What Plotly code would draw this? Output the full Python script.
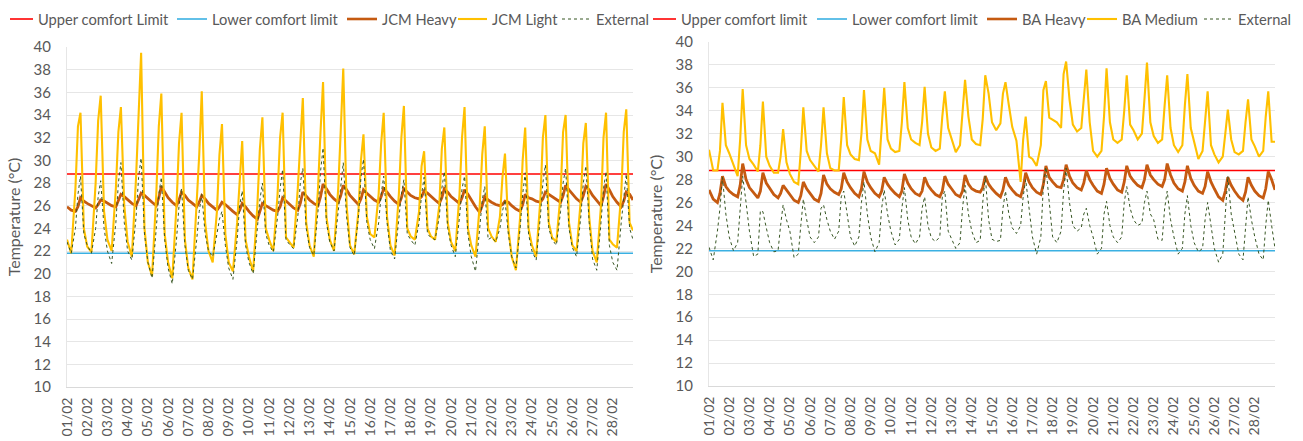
import plotly.graph_objects as go

# ---------------- data ----------------
DAY_LABELS = ["%02d/02" % d for d in range(1, 29)]
HOURS = [0, 5, 10, 13, 16, 20]          # sample hours within each day

UPPER_LIMIT = 28.8
LOWER_LIMIT = 21.8

LEFT_NAMES = ["Upper comfort Limit", "Lower comfort limit", "JCM Heavy", "JCM Light", "External"]
RIGHT_NAMES = ["Upper comfort limit", "Lower comfort limit", "BA Heavy", "BA Medium", "External"]
Y_TITLE = "Temperature (°C)"

# Left panel (JCM) - one row per day, values at HOURS
JCM_HEAVY = [
    [25.9, 25.6, 25.5, 25.9, 26.7, 26.4], [26.2, 26.0, 25.8, 26.1, 26.5, 26.4],
    [26.2, 26.0, 25.9, 26.4, 27.0, 26.8], [26.5, 26.2, 26.0, 26.5, 27.1, 26.9],
    [26.6, 26.3, 26.0, 26.7, 27.7, 27.2], [26.7, 26.3, 26.0, 26.5, 27.2, 26.9],
    [26.5, 26.2, 25.9, 26.3, 26.9, 26.6], [26.2, 25.9, 25.6, 25.9, 26.3, 26.1],
    [25.8, 25.5, 25.2, 25.6, 26.2, 25.9], [25.5, 25.1, 24.8, 25.5, 26.2, 26.0],
    [25.8, 25.6, 25.5, 25.9, 26.7, 26.4], [26.1, 25.8, 25.6, 26.2, 27.2, 26.8],
    [26.5, 26.2, 26.0, 26.8, 27.9, 27.5], [27.0, 26.6, 26.3, 26.9, 27.8, 27.4],
    [26.9, 26.5, 26.1, 26.6, 27.4, 27.1], [26.8, 26.5, 26.3, 26.8, 27.5, 27.2],
    [26.8, 26.4, 26.1, 26.7, 27.5, 27.2], [26.9, 26.7, 26.6, 26.8, 27.3, 27.1],
    [26.8, 26.5, 26.2, 26.7, 27.5, 27.2], [26.8, 26.5, 26.2, 26.7, 27.4, 27.0],
    [26.5, 25.9, 25.4, 26.0, 26.8, 26.5], [26.3, 26.1, 26.0, 26.1, 26.4, 26.3],
    [26.0, 25.7, 25.5, 26.1, 27.0, 26.7], [26.6, 26.4, 26.3, 26.6, 27.2, 27.0],
    [26.8, 26.5, 26.3, 26.9, 27.8, 27.4], [27.0, 26.6, 26.3, 26.9, 27.7, 27.4],
    [26.9, 26.4, 26.0, 26.8, 27.9, 27.4], [26.8, 26.3, 25.9, 26.4, 27.2, 27.0],
]
JCM_HEAVY_END = 26.5

JCM_LIGHT = [
    [23.0, 21.8, 27.5, 33.0, 34.2, 24.0], [22.4, 21.9, 28.0, 33.5, 35.7, 25.5],
    [23.0, 22.0, 27.5, 32.5, 34.7, 26.0], [22.8, 21.5, 28.5, 34.0, 39.5, 24.0],
    [21.0, 19.8, 27.0, 33.0, 35.9, 23.5], [21.0, 19.6, 26.0, 31.5, 34.2, 23.0],
    [20.5, 19.5, 26.5, 30.5, 36.1, 24.5], [22.0, 21.0, 25.5, 30.5, 33.2, 23.5],
    [21.0, 20.2, 24.5, 28.0, 31.7, 23.0], [21.5, 20.2, 26.0, 31.0, 33.8, 24.0],
    [23.0, 22.0, 27.0, 32.0, 34.2, 23.2], [22.8, 22.3, 27.5, 31.5, 35.5, 24.5],
    [22.5, 21.5, 27.5, 32.5, 36.9, 25.0], [23.0, 22.0, 27.5, 32.6, 38.1, 26.0],
    [22.5, 21.7, 25.5, 30.0, 32.3, 25.0], [23.5, 23.2, 27.0, 31.5, 34.2, 25.0],
    [22.5, 21.6, 27.0, 32.0, 34.8, 24.0], [23.3, 23.0, 25.5, 29.5, 30.8, 24.0],
    [23.3, 23.0, 26.0, 31.0, 32.9, 24.5], [22.8, 22.0, 27.0, 32.0, 34.7, 24.0],
    [22.5, 21.5, 26.0, 30.5, 33.0, 24.0], [23.3, 22.8, 25.0, 28.5, 30.6, 24.0],
    [21.5, 20.3, 25.0, 30.0, 32.9, 24.0], [22.5, 21.5, 26.5, 32.0, 34.0, 24.5],
    [23.2, 22.8, 27.0, 32.5, 34.0, 24.5], [22.5, 22.0, 26.5, 31.5, 33.3, 25.0],
    [22.0, 21.0, 26.0, 32.0, 34.2, 23.0], [22.6, 22.3, 27.0, 32.5, 34.5, 24.5],
]
JCM_LIGHT_END = 23.8

JCM_EXTERNAL = [
    [22.8, 21.8, 24.0, 27.0, 28.6, 23.5], [22.5, 21.8, 24.0, 26.8, 28.2, 24.0],
    [22.0, 20.9, 24.5, 28.0, 29.8, 24.5], [22.0, 21.2, 25.0, 28.5, 30.2, 23.5],
    [21.0, 19.6, 24.0, 27.0, 28.5, 23.0], [20.5, 19.1, 23.0, 26.0, 27.5, 22.5],
    [20.3, 19.5, 23.0, 25.5, 27.0, 23.5], [22.0, 21.5, 23.5, 24.8, 25.5, 22.5],
    [20.5, 19.5, 23.0, 26.0, 27.3, 22.5], [21.0, 20.0, 24.0, 26.5, 28.0, 23.5],
    [22.5, 21.9, 25.0, 27.5, 29.2, 23.0], [22.6, 22.2, 25.0, 28.0, 29.3, 24.0],
    [22.3, 21.6, 25.5, 29.0, 31.1, 24.5], [22.8, 22.0, 25.5, 28.0, 29.8, 25.0],
    [22.3, 21.6, 25.0, 28.5, 30.1, 24.5], [23.0, 22.2, 24.5, 27.0, 28.6, 24.5],
    [22.0, 21.3, 25.0, 27.0, 28.3, 23.5], [23.0, 22.5, 24.5, 27.0, 28.5, 23.5],
    [23.2, 23.0, 25.0, 27.5, 29.0, 24.0], [22.5, 21.5, 25.0, 27.5, 28.6, 23.5],
    [21.5, 20.2, 24.0, 26.5, 27.7, 23.0], [23.2, 22.8, 24.0, 25.5, 26.5, 23.5],
    [21.5, 20.5, 24.0, 27.0, 28.9, 23.5], [22.0, 21.2, 25.0, 28.0, 29.6, 24.0],
    [23.0, 22.5, 25.5, 28.0, 29.3, 24.0], [22.3, 21.5, 25.0, 28.0, 29.5, 24.5],
    [21.3, 20.3, 24.5, 27.5, 29.0, 22.5], [21.0, 20.3, 24.5, 27.0, 28.8, 24.0],
]
JCM_EXTERNAL_END = 23.0

# Right panel (BA)
BA_HEAVY = [
    [27.1, 26.3, 26.0, 26.8, 28.3, 27.4], [27.0, 26.7, 26.5, 27.5, 29.4, 28.0],
    [27.3, 26.8, 26.4, 27.0, 28.6, 27.7], [27.2, 26.7, 26.4, 26.8, 27.5, 27.1],
    [26.7, 26.2, 26.0, 26.6, 27.8, 27.2], [26.8, 26.3, 26.1, 26.8, 28.4, 27.6],
    [27.2, 26.9, 26.7, 27.2, 28.6, 27.8], [27.3, 26.8, 26.5, 27.2, 28.7, 27.8],
    [27.3, 26.8, 26.5, 27.0, 28.2, 27.6], [27.2, 26.8, 26.5, 27.0, 28.5, 27.7],
    [27.2, 26.8, 26.6, 27.0, 28.2, 27.5], [27.1, 26.7, 26.5, 27.0, 28.3, 27.6],
    [27.2, 26.7, 26.5, 27.0, 28.4, 27.6], [27.2, 27.0, 26.9, 27.3, 28.3, 27.6],
    [27.2, 26.8, 26.5, 27.1, 28.2, 27.5], [27.1, 26.7, 26.5, 27.3, 28.6, 27.8],
    [27.3, 26.9, 26.7, 27.6, 29.2, 28.2], [27.8, 27.4, 27.3, 28.0, 29.3, 28.3],
    [27.7, 27.3, 27.1, 27.7, 28.8, 28.0], [27.5, 27.0, 26.8, 27.6, 29.0, 28.1],
    [27.6, 27.1, 26.9, 27.8, 29.2, 28.3], [27.9, 27.5, 27.3, 28.0, 29.3, 28.4],
    [28.0, 27.6, 27.4, 28.0, 29.4, 28.4], [27.7, 27.2, 27.0, 27.8, 29.2, 28.1],
    [27.5, 27.0, 26.8, 27.4, 28.7, 27.8], [27.2, 26.5, 26.2, 27.0, 28.2, 27.5],
    [27.0, 26.5, 26.2, 26.9, 28.2, 27.5], [27.0, 26.6, 26.4, 27.2, 28.7, 28.0],
]
BA_HEAVY_END = 27.1

BA_MEDIUM = [
    [30.6, 28.8, 28.8, 30.5, 34.7, 31.0], [30.3, 29.2, 28.3, 31.5, 35.9, 31.0],
    [29.8, 29.3, 28.7, 31.0, 34.8, 30.0], [29.2, 28.6, 28.6, 30.0, 32.4, 29.5],
    [28.5, 27.8, 27.6, 30.5, 34.3, 30.5], [29.7, 29.2, 28.7, 31.0, 34.3, 30.3],
    [29.0, 28.8, 28.8, 31.5, 35.2, 31.0], [30.2, 29.8, 29.7, 32.0, 35.8, 31.5],
    [30.5, 30.3, 29.3, 32.5, 36.0, 31.5], [30.7, 30.4, 30.5, 33.0, 36.5, 32.5],
    [31.5, 31.2, 31.0, 33.0, 36.1, 32.0], [30.8, 30.5, 30.7, 33.5, 35.7, 32.5],
    [31.5, 30.4, 31.0, 33.5, 36.7, 33.5], [31.5, 31.1, 31.0, 33.3, 37.1, 35.5],
    [33.0, 32.3, 32.9, 35.5, 36.5, 34.5], [32.6, 31.4, 27.8, 31.5, 33.5, 30.0],
    [29.8, 29.2, 31.0, 35.8, 36.6, 33.4], [33.2, 33.0, 32.5, 37.2, 38.3, 35.0],
    [32.8, 32.2, 32.5, 35.0, 37.6, 33.0], [30.5, 30.0, 30.5, 33.5, 37.7, 33.0],
    [31.5, 31.2, 31.5, 34.0, 37.1, 32.8], [32.3, 31.5, 32.0, 35.0, 38.2, 33.0],
    [31.8, 31.2, 31.5, 34.5, 37.1, 32.5], [31.0, 30.4, 31.0, 34.5, 37.2, 32.5],
    [31.2, 29.8, 30.5, 33.0, 35.7, 31.0], [30.2, 29.5, 30.0, 32.0, 34.1, 31.5],
    [30.4, 30.2, 30.5, 33.0, 35.0, 31.5], [30.9, 30.0, 30.5, 33.5, 35.7, 31.3],
]
BA_MEDIUM_END = 31.3

BA_EXTERNAL = [
    [22.1, 21.0, 23.5, 25.5, 28.2, 25.0], [23.0, 21.8, 22.5, 25.5, 28.3, 26.0],
    [23.5, 21.3, 21.5, 25.3, 25.2, 23.8], [22.5, 21.7, 21.8, 24.0, 25.8, 24.5],
    [23.5, 21.2, 21.5, 24.0, 26.3, 24.5], [23.0, 22.5, 23.0, 25.5, 25.8, 24.5],
    [23.5, 22.8, 23.5, 26.5, 27.0, 25.0], [23.0, 22.2, 23.0, 26.0, 27.8, 25.0],
    [23.0, 21.7, 22.5, 25.5, 27.1, 25.0], [23.5, 22.3, 22.8, 25.5, 27.3, 24.5],
    [23.0, 22.4, 23.0, 25.5, 26.5, 24.0], [22.9, 22.6, 23.0, 26.5, 27.0, 23.5],
    [22.8, 22.0, 22.5, 25.5, 27.5, 25.0], [23.5, 22.5, 22.7, 26.0, 28.3, 24.5],
    [22.8, 22.6, 22.7, 25.5, 27.0, 25.0], [23.8, 23.3, 24.0, 26.5, 28.0, 25.5],
    [23.0, 21.5, 23.0, 27.5, 29.1, 26.0], [23.0, 22.5, 23.5, 27.0, 29.0, 26.0],
    [24.0, 23.5, 23.8, 25.0, 25.5, 24.0], [23.0, 21.5, 22.0, 25.0, 26.1, 24.0],
    [23.0, 22.5, 23.0, 26.0, 27.4, 25.5], [24.5, 24.0, 24.2, 26.0, 27.0, 25.0],
    [24.5, 22.8, 22.7, 25.5, 27.0, 24.5], [23.0, 21.5, 22.0, 25.0, 26.6, 24.0],
    [22.5, 21.7, 22.0, 24.5, 26.0, 24.0], [22.0, 20.8, 21.5, 25.0, 28.3, 25.0],
    [23.5, 21.5, 21.0, 24.0, 26.5, 24.5], [23.0, 21.5, 21.0, 24.0, 26.2, 24.0],
]
BA_EXTERNAL_END = 22.0

# ---------------- styling ----------------
FONT = "Lato, 'Open Sans', sans-serif"
TXT = "#595959"
STYLES = [
    dict(color="#FF0000", width=1.6),
    dict(color="#3AB0E2", width=1.6),
    dict(color="#C55A11", width=2.8),
    dict(color="#FFC000", width=2.1),
    dict(color="#375623", width=1, dash="dot"),
]
W, H = 1303, 441
LEG_Y = 1 - 19 / H
# legend entries: (line start px, line end px, text start px)
LEFT_LEG = [(10, 33, 36), (177, 207, 210), (347, 377, 380), (458, 487, 490), (562, 591, 594)]
RIGHT_LEG = [(653, 676, 679), (817, 847, 850), (987, 1017, 1020), (1087, 1117, 1120), (1204, 1232, 1236)]

x_vals = [d + h / 24.0 for d in range(len(DAY_LABELS)) for h in HOURS] + [len(DAY_LABELS)]


def flat(rows, end):
    return [v for r in rows for v in r] + [end]


fig = go.Figure()
shapes, annotations = [], []


def add_panel(xa, ya, names, heavy, light, ext, leg):
    series = [[UPPER_LIMIT] * len(x_vals), [LOWER_LIMIT] * len(x_vals), heavy, light, ext]
    for name, ys, st in zip(names, series, STYLES):
        fig.add_trace(go.Scatter(x=x_vals, y=ys, name=name, xaxis=xa, yaxis=ya, mode="lines",
                                 line=st, hoverinfo="skip", showlegend=False))
    for name, st, (l0, l1, t0) in zip(names, STYLES, leg):
        shapes.append(dict(type="line", xref="paper", yref="paper", x0=l0 / W, x1=l1 / W,
                           y0=LEG_Y, y1=LEG_Y,
                           line=dict(color=st["color"], width=min(st["width"], 2.6),
                                     dash=st.get("dash", "solid"))))
        annotations.append(dict(text=name, xref="paper", yref="paper", x=t0 / W, y=LEG_Y,
                                xanchor="left", yanchor="middle", showarrow=False,
                                font=dict(size=14.7, color=TXT, family=FONT)))


add_panel("x", "y", LEFT_NAMES, flat(JCM_HEAVY, JCM_HEAVY_END), flat(JCM_LIGHT, JCM_LIGHT_END),
          flat(JCM_EXTERNAL, JCM_EXTERNAL_END), LEFT_LEG)
add_panel("x2", "y2", RIGHT_NAMES, flat(BA_HEAVY, BA_HEAVY_END), flat(BA_MEDIUM, BA_MEDIUM_END),
          flat(BA_EXTERNAL, BA_EXTERNAL_END), RIGHT_LEG)


def xaxis(dom, anchor):
    return dict(domain=dom, anchor=anchor, range=[0, len(DAY_LABELS)], automargin=False,
                tickmode="array", tickvals=list(range(len(DAY_LABELS))), ticktext=DAY_LABELS,
                tickangle=-90, tickfont=dict(size=14, color=TXT, family=FONT),
                showgrid=False, zeroline=False, showline=True, linecolor="#D9D9D9",
                linewidth=1, ticks="", ticklabelstandoff=4)


def yaxis(dom, anchor):
    return dict(domain=dom, anchor=anchor, range=[10, 40], dtick=2, automargin=False,
                tickfont=dict(size=15, color=TXT, family=FONT),
                showgrid=True, gridcolor="#E6E6E6", gridwidth=1, zeroline=False,
                showline=True, linecolor="#E6E6E6", ticks="", ticklabelstandoff=12,
                title=dict(text=Y_TITLE, font=dict(size=16, color=TXT, family=FONT),
                           standoff=8))


fig.update_layout(
    width=W, height=H, autosize=False,
    margin=dict(l=0, r=0, t=0, b=0),
    paper_bgcolor="white", plot_bgcolor="white",
    font=dict(family=FONT, color=TXT),
    xaxis=xaxis([67 / W, 633 / W], "y"),
    yaxis=yaxis([1 - 387 / H, 1 - 47 / H], "x"),
    xaxis2=xaxis([709 / W, 1275 / W], "y2"),
    yaxis2=yaxis([1 - 386 / H, 1 - 42 / H], "x2"),
    shapes=shapes, annotations=annotations,
    showlegend=False,
)

fig.write_html("out.html", config={"displayModeBar": False, "staticPlot": True},
               post_script="document.body.style.margin='0';document.body.style.overflow='hidden';")
